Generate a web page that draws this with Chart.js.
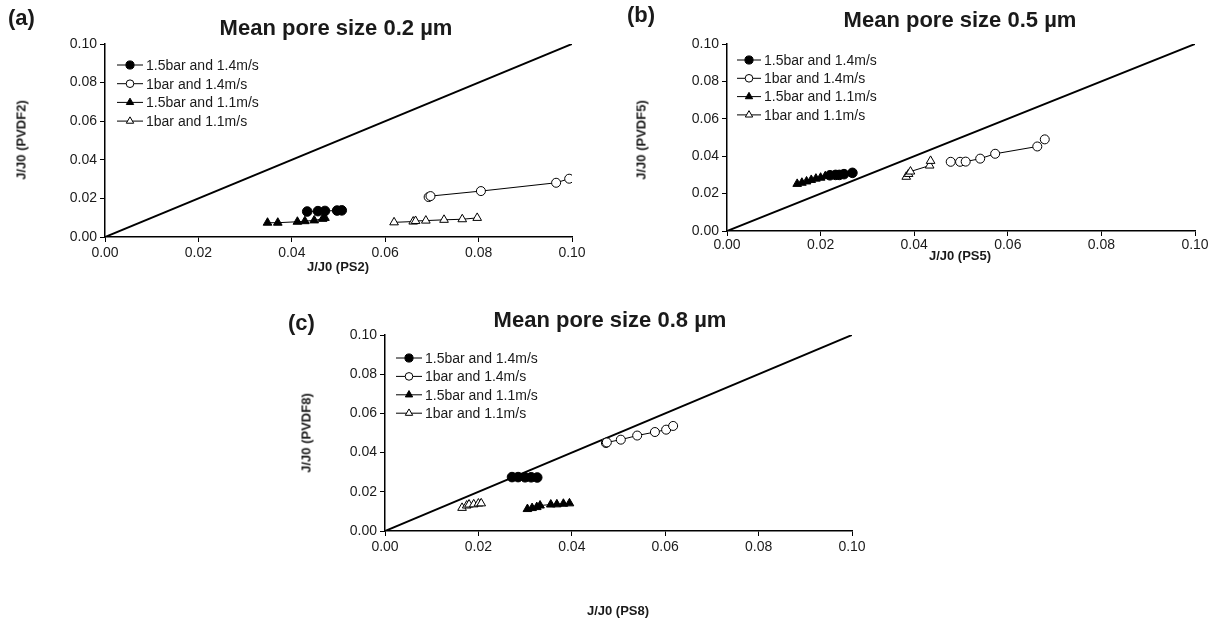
<!DOCTYPE html>
<html lang="en">
<head>
  <meta charset="UTF-8" />
  <title>J/J0 PVDF vs PS</title>
  <script src="https://cdn.jsdelivr.net/npm/chart.js"></script>
  <style>
    body {
      margin: 0;
      width: 1225px;
      height: 626px;
      position: relative;
      background: #fff;
      font-family: "Liberation Sans", Arial, sans-serif;
      color: #1a1a1a;
      overflow: hidden;
    }
    canvas { position: absolute; }
    .txt { position: absolute; white-space: nowrap; font-weight: bold; }
    .title { font-size: 22px; transform: translate(-50%, -50%); }
    .letter { font-size: 22px; transform: translate(0, -50%); }
    .axt { font-size: 13px; transform: translate(-50%, -50%); }
    .axt.v { transform: translate(-50%, -50%) rotate(-90deg); }
  </style>
</head>
<body>
  <canvas id="chartA" width="600" height="280" style="left:0;top:0"></canvas>
  <canvas id="chartB" width="610" height="272" style="left:615px;top:0"></canvas>
  <canvas id="chartC" width="600" height="326" style="left:280px;top:300px"></canvas>

  <div class="txt letter" style="left:8px;top:18px">(a)</div>
  <div class="txt title" style="left:336px;top:28px">Mean pore size 0.2 µm</div>
  <div class="txt axt v" style="left:21px;top:140px">J/J0 (PVDF2)</div>
  <div class="txt axt" style="left:338px;top:266px">J/J0 (PS2)</div>

  <div class="txt letter" style="left:627px;top:15px">(b)</div>
  <div class="txt title" style="left:960px;top:20px">Mean pore size 0.5 µm</div>
  <div class="txt axt v" style="left:641px;top:140px">J/J0 (PVDF5)</div>
  <div class="txt axt" style="left:960px;top:255px">J/J0 (PS5)</div>

  <div class="txt letter" style="left:288px;top:323px">(c)</div>
  <div class="txt title" style="left:610px;top:320px">Mean pore size 0.8 µm</div>
  <div class="txt axt v" style="left:306px;top:433px">J/J0 (PVDF8)</div>
  <div class="txt axt" style="left:618px;top:610px">J/J0 (PS8)</div>

  <script>
    const seriesLabels = ['1.5bar and 1.4m/s', '1bar and 1.4m/s', '1.5bar and 1.1m/s', '1bar and 1.1m/s'];
    const tickValues = [0, 0.02, 0.04, 0.06, 0.08, 0.10];
    const diagonalX = [0, 0.1];
    const diagonalY = [0, 0.1];

    // (a) 0.2 um
    const a_hi14_x = [0.0433, 0.0456, 0.0471, 0.0497, 0.0507];
    const a_hi14_y = [0.0132, 0.0134, 0.0135, 0.0137, 0.0138];
    const a_lo14_x = [0.0693, 0.0697, 0.0805, 0.0966, 0.0994];
    const a_lo14_y = [0.0207, 0.0212, 0.0238, 0.0281, 0.0302];
    const a_hi11_x = [0.0348, 0.0370, 0.0412, 0.0428, 0.0448, 0.0466, 0.0471];
    const a_hi11_y = [0.0074, 0.0074, 0.0079, 0.0082, 0.0086, 0.0094, 0.0099];
    const a_lo11_x = [0.0619, 0.0660, 0.0665, 0.0687, 0.0726, 0.0765, 0.0797];
    const a_lo11_y = [0.0076, 0.0080, 0.0083, 0.0085, 0.0089, 0.0092, 0.0099];

    // (b) 0.5 um
    const b_hi14_x = [0.0220, 0.0232, 0.0240, 0.0250, 0.0268];
    const b_hi14_y = [0.0298, 0.0300, 0.0300, 0.0304, 0.0311];
    const b_lo14_x = [0.0478, 0.0498, 0.0510, 0.0541, 0.0573, 0.0663, 0.0679];
    const b_lo14_y = [0.0370, 0.0370, 0.0371, 0.0387, 0.0413, 0.0452, 0.0490];
    const b_hi11_x = [0.0150, 0.0160, 0.0170, 0.0180, 0.0190, 0.0200, 0.0210];
    const b_hi11_y = [0.0252, 0.0258, 0.0265, 0.0273, 0.0280, 0.0285, 0.0293];
    const b_lo11_x = [0.0383, 0.0388, 0.0392, 0.0433, 0.0435];
    const b_lo11_y = [0.0290, 0.0305, 0.0318, 0.0350, 0.0375];

    // (c) 0.8 um
    const c_hi14_x = [0.0272, 0.0285, 0.0300, 0.0313, 0.0326];
    const c_hi14_y = [0.0275, 0.0275, 0.0274, 0.0274, 0.0273];
    const c_lo14_x = [0.0473, 0.0475, 0.0505, 0.0540, 0.0578, 0.0602, 0.0617];
    const c_lo14_y = [0.0449, 0.0452, 0.0466, 0.0487, 0.0505, 0.0517, 0.0536];
    const c_hi11_x = [0.0305, 0.0315, 0.0325, 0.0332, 0.0355, 0.0368, 0.0382, 0.0395];
    const c_hi11_y = [0.0112, 0.0117, 0.0122, 0.0130, 0.0135, 0.0136, 0.0139, 0.0141];
    const c_lo11_x = [0.0165, 0.0175, 0.0180, 0.0190, 0.0200, 0.0206];
    const c_lo11_y = [0.0118, 0.0130, 0.0135, 0.0136, 0.0140, 0.0141];

    Chart.defaults.font.family = '"Liberation Sans", Arial, sans-serif';
    Chart.defaults.font.size = 14;
    Chart.defaults.color = '#1a1a1a';

    const styles = [
      { pointStyle: 'circle', backgroundColor: '#000', pointRadius: 4.8 },
      { pointStyle: 'circle', backgroundColor: '#fff', pointRadius: 4.5 },
      { pointStyle: 'triangle', backgroundColor: '#000', pointRadius: 5 },
      { pointStyle: 'triangle', backgroundColor: '#fff', pointRadius: 5 }
    ];

    const pts = (xs, ys) => xs.map((x, i) => ({ x: x, y: ys[i] }));

    // legend drawn as line + marker, like the original
    const lineLegend = {
      id: 'lineLegend',
      afterDraw(chart, args, opts) {
        const { ctx, chartArea } = chart;
        ctx.save();
        ctx.font = '14px "Liberation Sans", Arial, sans-serif';
        ctx.textBaseline = 'middle';
        let n = 0;
        chart.data.datasets.forEach(ds => {
          if (!ds.label) return;
          const y = chartArea.top + opts.top + n * opts.gap;
          const x0 = chartArea.left + opts.left;
          ctx.strokeStyle = '#000';
          ctx.lineWidth = 1;
          ctx.beginPath();
          ctx.moveTo(x0, y);
          ctx.lineTo(x0 + opts.len, y);
          ctx.stroke();
          ctx.fillStyle = ds.backgroundColor;
          Chart.helpers.drawPoint(ctx, { pointStyle: ds.pointStyle, radius: ds.pointRadius * 0.85, borderWidth: 1, rotation: 0 }, x0 + opts.len / 2, y);
          ctx.fillStyle = '#1a1a1a';
          ctx.fillText(ds.label, x0 + opts.len + 3, y + 1);
          n++;
        });
        ctx.restore();
      }
    };

    function axis(size, horizontal, pad) {
      return {
        type: 'linear',
        min: 0,
        max: 0.1,
        afterBuildTicks: s => { s.ticks = tickValues.map(v => ({ value: v })); },
        afterFit: s => { if (horizontal) s.height = size; else s.width = size; },
        ticks: {
          callback: v => v.toFixed(2),
          padding: pad,
          maxRotation: 0,
          color: '#1a1a1a',
          font: { size: 14 }
        },
        grid: { drawOnChartArea: false, drawTicks: true, tickLength: 5, color: '#000', lineWidth: 1 },
        border: { display: true, color: '#000', width: 1.5 }
      };
    }

    function makePanel(id, series, lay, leg) {
      const datasets = series.map((s, i) => ({
        label: seriesLabels[i],
        data: pts(s[0], s[1]),
        showLine: true,
        borderColor: '#000',
        borderWidth: 1,
        pointBorderWidth: 1,
        pointStyle: styles[i].pointStyle,
        backgroundColor: styles[i].backgroundColor,
        pointBackgroundColor: styles[i].backgroundColor,
        pointBorderColor: '#000',
        pointRadius: styles[i].pointRadius
      }));
      datasets.push({
        label: '',
        data: pts(diagonalX, diagonalY),
        showLine: true,
        borderColor: '#000',
        borderWidth: 2,
        pointRadius: 0
      });

      return new Chart(document.getElementById(id), {
        type: 'scatter',
        data: { datasets: datasets },
        options: {
          responsive: false,
          animation: false,
          devicePixelRatio: 1,
          layout: { padding: { left: 0, top: lay.top, right: lay.right, bottom: 0 } },
          plugins: {
            legend: { display: false },
            tooltip: { enabled: false },
            lineLegend: leg
          },
          scales: {
            x: axis(lay.xh, true, lay.xpad),
            y: axis(lay.yw, false, 3)
          }
        },
        plugins: [lineLegend]
      });
    }

    makePanel('chartA',
      [[a_hi14_x, a_hi14_y], [a_lo14_x, a_lo14_y], [a_hi11_x, a_hi11_y], [a_lo11_x, a_lo11_y]],
      { top: 44, right: 28, xh: 43, yw: 105, xpad: 3 },
      { left: 12, len: 26, top: 21, gap: 18.7 });

    makePanel('chartB',
      [[b_hi14_x, b_hi14_y], [b_lo14_x, b_lo14_y], [b_hi11_x, b_hi11_y], [b_lo11_x, b_lo11_y]],
      { top: 44, right: 30, xh: 41, yw: 112, xpad: 1 },
      { left: 10, len: 24, top: 16, gap: 18.3 });

    makePanel('chartC',
      [[c_hi14_x, c_hi14_y], [c_lo14_x, c_lo14_y], [c_hi11_x, c_hi11_y], [c_lo11_x, c_lo11_y]],
      { top: 35, right: 28, xh: 95, yw: 105, xpad: 3 },
      { left: 11, len: 26, top: 23, gap: 18.4 });
  </script>
</body>
</html>
